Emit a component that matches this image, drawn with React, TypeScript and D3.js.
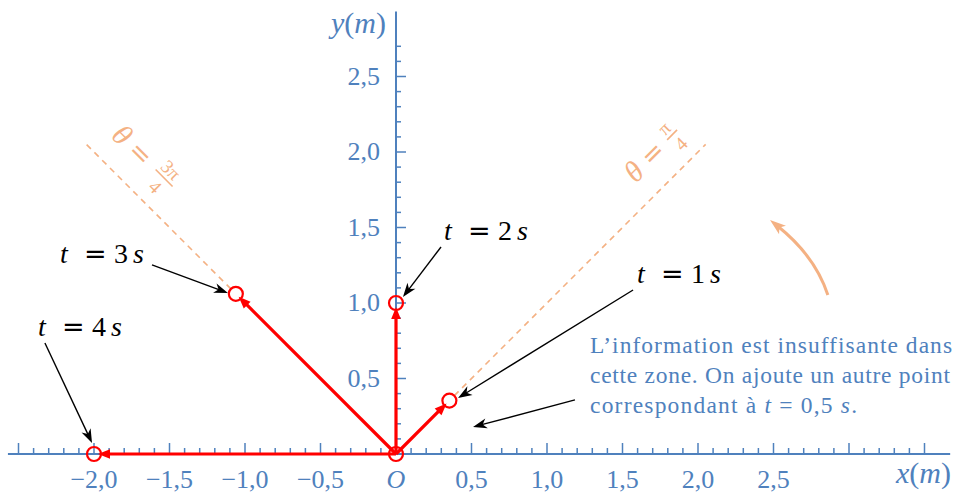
import React from "react";
import * as d3 from "d3";

const WIDTH = 958;
const HEIGHT = 493;

// Sampled positions: time (s), distance from O (m), polar angle (rad)
const times = [1, 2, 3, 4];
const radii = [0.5, 1, 1.5, 2];
const angles = [Math.PI / 4, Math.PI / 2, (3 * Math.PI) / 4, Math.PI];

const xTickValues = [-2, -1.5, -1, -0.5, 0, 0.5, 1, 1.5, 2, 2.5];
const xTickLabels = ["−2,0", "−1,5", "−1,0", "−0,5", "O", "0,5", "1,0", "1,5", "2,0", "2,5"];
const yTickValues = [0.5, 1, 1.5, 2, 2.5];
const yTickLabels = ["0,5", "1,0", "1,5", "2,0", "2,5"];

// Direction rays (dashed): angle, start radius (m)
const rayAngles = [Math.PI / 4, (3 * Math.PI) / 4];
const rayStart = [0.5, 1.5];
const rayEnd = 2.9;
const rayLabelNum = ["π", "3π"];
const rayLabelPos = [
  [1.702, 1.987],
  [-1.695, 1.987],
];

// Callouts in metres: label start, arrow tail, arrow head
const calloutTimes = [1, 2, 3, 4];
const calloutLabel = [
  [1.596, 1.132],
  [0.318, 1.417],
  [-2.225, 1.265],
  [-2.371, 0.781],
];
const calloutTail = [
  [1.57, 1.086],
  [0.298, 1.371],
  [-1.616, 1.252],
  [-2.325, 0.735],
];
const calloutHead = [
  [0.411, 0.371],
  [0.046, 1.04],
  [-1.113, 1.066],
  [-2.013, 0.073],
];

const noteLines = [
  "L’information est insuffisante dans",
  "cette zone. On ajoute un autre point",
];
const notePos = [1.285, 0.669];
const noteArrow = [
  [1.185, 0.358],
  [0.51, 0.179],
];

// Rotation hint arc (m): start, control, end
const turnArc = [
  [2.86, 1.053],
  [2.775, 1.311],
  [2.477, 1.55],
];

const OX = 396;
const OY = 454;
const UNIT = 151;

const BLUE = "#4F81BD";
const ORANGE = "#F4B183";
const RED = "#FF0000";
const FONT = "'Liberation Serif', serif";
const EQ_FONT = "'DejaVu Sans', sans-serif";

const x = d3.scaleLinear().domain([0, 1]).range([OX, OX + UNIT]);
const y = d3.scaleLinear().domain([0, 1]).range([OY, OY - UNIT]);

function headPoints(tx: number, ty: number, ux: number, uy: number, len: number, half: number, notch = 0) {
  const bx = tx - ux * len;
  const by = ty - uy * len;
  const px = -uy;
  const py = ux;
  const nx = tx - ux * (len - notch);
  const ny = ty - uy * (len - notch);
  return [
    [tx, ty],
    [bx + px * half, by + py * half],
    [nx, ny],
    [bx - px * half, by - py * half],
  ]
    .map((p) => p.join(","))
    .join(" ");
}

function Arrow({ x1, y1, x2, y2, color, width, len, half, notch }: any) {
  const dx = x2 - x1;
  const dy = y2 - y1;
  const L = Math.hypot(dx, dy);
  const ux = dx / L;
  const uy = dy / L;
  const ex = x2 - ux * (len - notch - 1);
  const ey = y2 - uy * (len - notch - 1);
  return (
    <g>
      <line x1={x1} y1={y1} x2={ex} y2={ey} stroke={color} strokeWidth={width} />
      <polygon points={headPoints(x2, y2, ux, uy, len, half, notch)} fill={color} />
    </g>
  );
}

export default function App() {
  const minorX = d3.range(-25, 36).map((i) => i / 10);
  const minorY = d3.range(1, 28).map((i) => i / 10);
  const isMajor = (v: number) => Math.abs(v * 2 - Math.round(v * 2)) < 1e-6;

  const pts = radii.map((r, i) => ({
    t: times[i],
    px: x(r * Math.cos(angles[i])),
    py: y(r * Math.sin(angles[i])),
  }));

  const [a0, a1, a2] = turnArc;
  const ax0 = x(a0[0]), ay0 = y(a0[1]);
  const axc = x(a1[0]), ayc = y(a1[1]);
  const ax2 = x(a2[0]), ay2 = y(a2[1]);
  const adx = ax2 - axc, ady = ay2 - ayc;
  const aL = Math.hypot(adx, ady);
  const aux = adx / aL, auy = ady / aL;
  const arcEndX = ax2 - aux * 10;
  const arcEndY = ay2 - auy * 10;

  return (
    <svg
      width={WIDTH}
      height={HEIGHT}
      style={{ position: "absolute", left: 0, top: 0, background: "#fff" }}
      fontFamily={FONT}
    >
      {/* axes */}
      <line x1={x(-2.57)} x2={x(3.67)} y1={y(0)} y2={y(0)} stroke={BLUE} strokeWidth={2} />
      <line x1={x(0)} x2={x(0)} y1={y(0)} y2={y(2.93)} stroke={BLUE} strokeWidth={2} />
      {minorX.map((v) => (
        <line
          key={"xt" + v}
          x1={x(v)}
          x2={x(v)}
          y1={y(0)}
          y2={y(0) - (isMajor(v) ? 11 : 6)}
          stroke={BLUE}
          strokeWidth={1.5}
        />
      ))}
      {minorY.map((v) => (
        <line
          key={"yt" + v}
          x1={x(0)}
          x2={x(0) + (isMajor(v) ? 10 : 5)}
          y1={y(v)}
          y2={y(v)}
          stroke={BLUE}
          strokeWidth={1.5}
        />
      ))}
      {xTickValues.map((v, i) => (
        <text
          key={"xl" + v}
          x={x(v)}
          y={488}
          textAnchor="middle"
          fontSize={26}
          fill={BLUE}
          fontStyle={v === 0 ? "italic" : "normal"}
        >
          {xTickLabels[i]}
        </text>
      ))}
      {yTickValues.map((v, i) => (
        <text key={"yl" + v} x={x(0) - 16} y={y(v) + 8} textAnchor="end" fontSize={26} fill={BLUE}>
          {yTickLabels[i]}
        </text>
      ))}
      <text x={386} y={33} textAnchor="end" fontSize={30} fill={BLUE}>
        <tspan fontStyle="italic">y</tspan>(<tspan fontStyle="italic">m</tspan>)
      </text>
      <text x={951} y={483} textAnchor="end" fontSize={30} fill={BLUE}>
        <tspan fontStyle="italic">x</tspan>(<tspan fontStyle="italic">m</tspan>)
      </text>

      {/* direction rays */}
      {rayAngles.map((a, i) => {
        const s = rayStart[i] + 7 / UNIT;
        return (
          <line
            key={"ray" + i}
            x1={x(s * Math.cos(a))}
            y1={y(s * Math.sin(a))}
            x2={x(rayEnd * Math.cos(a))}
            y2={y(rayEnd * Math.sin(a))}
            stroke={ORANGE}
            strokeWidth={1.6}
            strokeDasharray="6 5"
          />
        );
      })}
      {rayAngles.map((a, i) => {
        const rot = i === 0 ? -45 : 45;
        const wide = rayLabelNum[i].length > 1;
        const barC = wide ? 34 : 27;
        const barHalf = wide ? 12 : 7;
        return (
          <g
            key={"rl" + i}
            transform={`translate(${x(rayLabelPos[i][0])},${y(rayLabelPos[i][1])}) rotate(${rot})`}
            fill={ORANGE}
          >
            <text x={-26} y={9} textAnchor="middle" fontStyle="italic" fontSize={30}>
              θ
            </text>
            <text x={0} y={8} textAnchor="middle" fontSize={26} fontFamily={EQ_FONT}>
              =
            </text>
            <line x1={barC - barHalf} x2={barC + barHalf} y1={0} y2={0} stroke={ORANGE} strokeWidth={1.6} />
            <text x={barC - 1} y={-4} textAnchor="middle" fontSize={19}>
              {rayLabelNum[i]}
            </text>
            <text x={barC} y={19} textAnchor="middle" fontSize={19}>
              4
            </text>
          </g>
        );
      })}

      {/* position vectors */}
      {pts.map((p) => {
        const dx = p.px - OX;
        const dy = p.py - OY;
        const L = Math.hypot(dx, dy);
        const tx = p.px - (dx / L) * 4;
        const ty = p.py - (dy / L) * 4;
        return (
          <Arrow key={"v" + p.t} x1={OX} y1={OY} x2={tx} y2={ty} color={RED} width={3.2} len={12} half={4.8} notch={0} />
        );
      })}
      {[{ t: 0, px: OX, py: OY }, ...pts].map((p) => (
        <circle key={"c" + p.t} cx={p.px} cy={p.py} r={7} fill="none" stroke={RED} strokeWidth={2.2} />
      ))}

      {/* callouts */}
      {calloutTimes.map((t, i) => {
        const lx = x(calloutLabel[i][0]);
        const ly = y(calloutLabel[i][1]);
        return (
          <g key={"co" + t}>
            <text x={lx} y={ly} fontSize={28} fill="#000">
              <tspan fontStyle="italic">t</tspan>
              <tspan x={lx + 24} fontFamily={EQ_FONT} fontSize={27}>
                =
              </tspan>
              <tspan x={lx + 54}>{t}</tspan>
              <tspan x={lx + 73} fontStyle="italic">
                s
              </tspan>
            </text>
            <Arrow
              x1={x(calloutTail[i][0])}
              y1={y(calloutTail[i][1])}
              x2={x(calloutHead[i][0])}
              y2={y(calloutHead[i][1])}
              color="#000"
              width={1.4}
              len={14}
              half={5}
              notch={4}
            />
          </g>
        );
      })}

      {/* note */}
      <g fill={BLUE} fontSize={23.5}>
        {noteLines.map((s, i) => (
          <text key={"n" + i} x={x(notePos[0])} y={y(notePos[1]) + i * 30} textLength={i === 0 ? 362 : 360} lengthAdjust="spacing">
            {s}
          </text>
        ))}
        <text x={x(notePos[0])} y={y(notePos[1]) + 60} textLength={267} lengthAdjust="spacing">
          correspondant à <tspan fontStyle="italic">t</tspan> = 0,5 <tspan fontStyle="italic">s</tspan>.
        </text>
      </g>
      <Arrow
        x1={x(noteArrow[0][0])}
        y1={y(noteArrow[0][1])}
        x2={x(noteArrow[1][0])}
        y2={y(noteArrow[1][1])}
        color="#000"
        width={1.4}
        len={14}
        half={5}
        notch={4}
      />

      {/* rotation sense */}
      <path
        d={`M${ax0},${ay0} Q${axc},${ayc} ${arcEndX},${arcEndY}`}
        fill="none"
        stroke={ORANGE}
        strokeWidth={3}
      />
      <polygon points={headPoints(ax2, ay2, aux, auy, 16, 5.5, 4)} fill={ORANGE} />
    </svg>
  );
}
